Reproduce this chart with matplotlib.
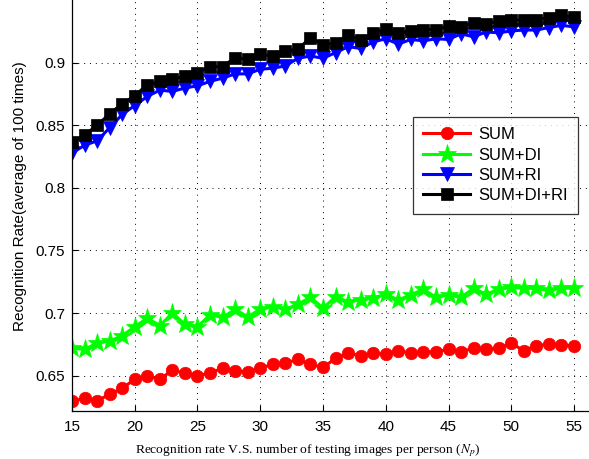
import matplotlib
matplotlib.use("Agg")
import matplotlib.pyplot as plt
import numpy as np

# Number of testing images per person
n_images = list(range(15, 56))

sum_only = [0.6295, 0.632, 0.630, 0.635, 0.640, 0.647, 0.650, 0.647, 0.6545, 0.652,
            0.650, 0.652, 0.656, 0.654, 0.653, 0.656, 0.659, 0.660, 0.663, 0.659,
            0.6566, 0.6637, 0.668, 0.666, 0.668, 0.667, 0.670, 0.668, 0.669, 0.669,
            0.671, 0.669, 0.672, 0.671, 0.672, 0.6758, 0.670, 0.674, 0.675, 0.6747,
            0.6737]

sum_di = [0.672, 0.671, 0.676, 0.6776, 0.682, 0.689, 0.696, 0.690, 0.700, 0.691,
          0.689, 0.6987, 0.6965, 0.703, 0.697, 0.703, 0.705, 0.703, 0.707, 0.7126,
          0.704, 0.713, 0.709, 0.7105, 0.712, 0.715, 0.7105, 0.7145, 0.719, 0.7126,
          0.7145, 0.7126, 0.7197, 0.715, 0.719, 0.7205, 0.7197, 0.7197, 0.718, 0.720,
          0.7197]

sum_ri = [0.8277, 0.834, 0.8375, 0.848, 0.8586, 0.8657, 0.873, 0.878, 0.877, 0.8797,
          0.8815, 0.885, 0.8876, 0.891, 0.891, 0.8947, 0.8955, 0.8974, 0.9034, 0.9053,
          0.9034, 0.908, 0.9127, 0.9113, 0.9166, 0.919, 0.9148, 0.9185, 0.9174, 0.919,
          0.9185, 0.923, 0.9206, 0.9245, 0.9238, 0.9253, 0.926, 0.926, 0.928, 0.9298,
          0.9285]

sum_di_ri = [0.8366, 0.842, 0.850, 0.859, 0.867, 0.8736, 0.8823, 0.885, 0.8868, 0.889,
             0.892, 0.8968, 0.8968, 0.904, 0.9026, 0.907, 0.905, 0.9095, 0.9105, 0.920,
             0.914, 0.9158, 0.922, 0.918, 0.9238, 0.927, 0.9238, 0.9253, 0.9264, 0.9264,
             0.929, 0.9285, 0.932, 0.931, 0.9333, 0.9343, 0.9338, 0.9343, 0.936, 0.9377,
             0.9364]

labels = ["SUM", "SUM+DI", "SUM+RI", "SUM+DI+RI"]
x_ticks = [15, 20, 25, 30, 35, 40, 45, 50, 55]
y_ticks = [0.65, 0.7, 0.75, 0.8, 0.85, 0.9]
y_tick_labels = ["0.65", "0.7", "0.75", "0.8", "0.85", "0.9"]

plt.rcParams["font.family"] = ["Liberation Sans", "DejaVu Sans"]
plt.rcParams["mathtext.fontset"] = "stix"

fig = plt.figure(figsize=(5.89, 4.59), dpi=100)
ax = fig.add_axes([72 / 589, (459 - 410.7) / 459, 1 - 72 / 589, 410.7 / 459])

styles = [
    dict(color=(1, 0, 0), marker="o", markersize=9),
    dict(color=(0, 1, 0), marker="*", markersize=14),
    dict(color=(0, 0, 1), marker="v", markersize=10),
    dict(color=(0, 0, 0), marker="s", markersize=9),
]
for series, label, st in zip([sum_only, sum_di, sum_ri, sum_di_ri], labels, styles):
    ax.plot(n_images, series, label=label, linewidth=2.2, markeredgewidth=0.5,
            markerfacecolor=st["color"], markeredgecolor=st["color"], **st)

ax.set_xlim(15, 15 + (589 - 72) / 12.55)
ax.set_ylim(0.622, 0.95)
ax.set_xticks(x_ticks)
ax.set_yticks(y_ticks)
ax.set_yticklabels(y_tick_labels)
ax.tick_params(direction="in", length=4, width=0.8, labelsize=11, pad=5)
ax.tick_params(axis="x", pad=7)
ax.grid(True, color="black", linestyle=(0, (1, 5)), linewidth=0.7)
for side in ("top", "right"):
    ax.spines[side].set_visible(False)
for side in ("left", "bottom"):
    ax.spines[side].set_linewidth(0.9)

ax.set_ylabel("Recognition Rate(average of 100 times)", fontsize=11)
ax.yaxis.set_label_coords(-0.087, (410.7 - 196) / 410.7)
ax.set_xlabel(r"Recognition rate V.S. number of testing images per person ($N_p$)",
              fontsize=9.7, fontfamily="Liberation Serif")
ax.xaxis.set_label_coords((308 - 72) / 517, -(451 - 410.7) / 410.7)
ax.xaxis.label.set_verticalalignment("center")

leg = ax.legend(loc="upper left", bbox_to_anchor=(413 / 589, 1 - 117 / 459),
                bbox_transform=fig.transFigure, fontsize=12, frameon=True,
                fancybox=False, edgecolor="black", handlelength=2.8,
                borderpad=0.62, labelspacing=0.32, handletextpad=0.5,
                borderaxespad=0)
leg.get_frame().set_linewidth(0.9)

fig.savefig("out.png", dpi=100)
